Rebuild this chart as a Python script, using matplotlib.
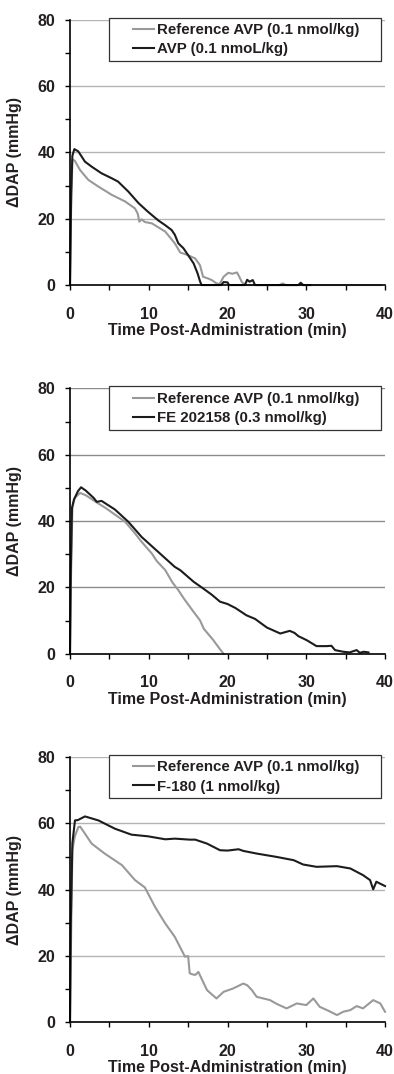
import matplotlib
matplotlib.use("Agg")
import matplotlib.pyplot as plt
from matplotlib.patches import Rectangle
from matplotlib.ticker import MultipleLocator

plt.rcParams["font.family"] = ["Liberation Sans", "DejaVu Sans"]
plt.rcParams["font.weight"] = "bold"
plt.rcParams["axes.labelweight"] = "bold"

# panel 1: reference AVP vs AVP
p1_ref_t = [0, 0.15, 0.3, 0.6, 1.27, 2.33, 3.6, 5.3, 7.0, 8.25, 8.6, 8.8, 9.1, 9.5, 10.4, 12.1, 13.3,
            14.0, 15.0, 15.9, 16.5, 16.9, 17.5, 18.0, 18.6, 19.0, 19.5, 20.1, 20.6, 21.2, 21.5, 21.8,
            22.2, 26.6, 27.0, 27.4, 39.5]
p1_ref_v = [0, 25, 37.9, 37.5, 34.7, 31.7, 29.7, 27.2, 25.2, 23.1, 21.5, 19.1, 19.8, 19.0, 18.6, 16.1,
            12.6, 9.8, 9.0, 8.0, 6.0, 2.5, 2.0, 1.5, 0.5, 0.3, 2.5, 3.7, 3.4, 3.8, 2.5, 1.0, 0, 0, 0.5,
            0, 0]
p1_drug_t = [0, 0.15, 0.3, 0.55, 1.05, 1.9, 2.75, 4.0, 5.3, 6.1, 7.4, 8.7, 9.9, 11.2, 12.0, 12.9,
             13.3, 13.75, 14.4, 15.0, 15.7, 16.2, 16.5, 16.7, 19.2, 19.5, 20.0, 20.2, 22.2, 22.5,
             22.8, 23.2, 23.5, 29.0, 29.3, 29.6, 30.5]
p1_drug_v = [0, 28, 39, 41.0, 40.3, 37.2, 35.7, 33.7, 32.2, 31.2, 28.2, 24.7, 22.1, 19.5, 18.2, 16.6,
             15.2, 12.6, 11.1, 9.0, 6.5, 3.5, 1.2, 0, 0, 0.9, 0.8, 0, 0, 1.6, 1.0, 1.5, 0, 0, 0.7,
             0, 0]

# panel 2: reference AVP vs FE 202158
p2_ref_t = [0, 0.1, 0.3, 0.6, 1.27, 2.0, 3.6, 4.5, 6.1, 7.0, 8.25, 9.0, 10.4, 11.0, 12.1, 13.0, 13.75,
            14.5, 15.7, 16.5, 17.0, 18.2, 19.0, 19.5]
p2_ref_v = [0, 20, 44, 47, 48.5, 47.8, 45.3, 44.0, 41.3, 39.8, 36.3, 34.0, 30.2, 28.0, 25.2, 21.5,
            19.2, 16.5, 12.6, 10.1, 7.5, 4.1, 1.5, 0]
p2_drug_t = [0, 0.1, 0.25, 0.5, 1.0, 1.4, 2.0, 3.0, 3.4, 4.0, 5.7, 7.4, 9.1, 11.2, 13.3, 14.0, 15.7,
             16.9, 18.0, 19.05, 20.0, 21.0, 22.4, 23.5, 25.0, 26.7, 27.9, 28.5, 29.0, 30.05, 31.3,
             32.6, 33.2, 33.65, 34.7, 35.5, 36.4, 36.8, 37.3, 37.9]
p2_drug_v = [0, 25, 44, 46.5, 49, 50.2, 49.2, 47.0, 45.8, 46.1, 43.5, 39.8, 35.2, 30.7, 26.2, 25.2,
             21.7, 19.7, 17.8, 15.7, 15.0, 13.8, 11.6, 10.5, 7.9, 6.1, 6.9, 6.3, 5.3, 4.1, 2.3, 2.3,
             2.4, 1.1, 0.6, 0.4, 1.1, 0.3, 0.6, 0.4]

# panel 3: reference AVP vs F-180
p3_ref_t = [0, 0.1, 0.3, 0.6, 1.06, 1.3, 2.75, 4.4, 6.6, 8.25, 9.5, 10.8, 12.1, 13.3, 14.6, 15.0,
            15.2, 15.5, 15.9, 16.3, 17.4, 18.6, 19.5, 20.7, 22.0, 22.5, 23.1, 23.7, 25.4, 26.3, 27.5,
            28.8, 30.0, 30.9, 31.7, 32.8, 33.9, 34.7, 35.6, 36.4, 37.2, 38.5, 39.4, 40.0]
p3_ref_v = [0, 20, 52, 56, 58.9, 59, 53.9, 50.9, 47.4, 42.9, 40.7, 34.8, 29.8, 25.8, 19.8, 20.0,
            14.8, 14.5, 14.3, 15.2, 9.7, 7.2, 9.2, 10.2, 11.7, 11.2, 9.7, 7.7, 6.7, 5.5, 4.2, 5.7,
            5.2, 7.2, 4.7, 3.5, 2.2, 3.2, 3.7, 4.9, 4.2, 6.7, 5.7, 3.2]
p3_drug_t = [0, 0.1, 0.3, 0.63, 1.0, 1.9, 3.6, 5.7, 7.8, 9.9, 12.1, 13.3, 15.2, 15.9, 17.4, 19.05,
             20.0, 21.4, 22.0, 23.7, 26.2, 28.4, 29.6, 31.3, 33.9, 35.6, 37.2, 38.1, 38.5, 38.9,
             39.4, 40.0]
p3_drug_v = [0, 30, 54, 60.9, 61, 62.1, 60.9, 58.4, 56.6, 56.1, 55.2, 55.4, 55.1, 55.1, 53.9, 51.9,
             51.8, 52.2, 51.7, 50.9, 49.9, 48.9, 47.6, 46.9, 47.1, 46.4, 44.4, 42.9, 40.1, 42.4,
             41.8, 41.1]

ref_label = "Reference AVP (0.1 nmol/kg)"
drug_labels = ["AVP (0.1 nmoL/kg)", "FE 202158 (0.3 nmol/kg)", "F-180 (1 nmol/kg)"]

GRAY = "#999999"
BLACK = "#1c1c1c"
TEXT = "#231f20"


def draw_panel(ax, ref_t, ref_v, drug_t, drug_v, drug_label, grid_color):
    ax.set_xlim(0, 40)
    ax.set_ylim(0, 80)
    for y in [20, 40, 60, 80]:
        ax.axhline(y, color=grid_color, lw=1.0, zorder=1)
    ax.plot(ref_t, ref_v, color=GRAY, lw=1.5, label=ref_label, clip_on=False, zorder=3)
    ax.plot(drug_t, drug_v, color=BLACK, lw=1.5, label=drug_label, clip_on=False, zorder=4)

    for side in ["top", "right"]:
        ax.spines[side].set_visible(False)
    for side in ["left", "bottom"]:
        ax.spines[side].set_linewidth(1.2)
        ax.spines[side].set_color("black")
        ax.spines[side].set_zorder(5)
    ax.xaxis.set_major_locator(MultipleLocator(10))
    ax.xaxis.set_minor_locator(MultipleLocator(5))
    ax.yaxis.set_major_locator(MultipleLocator(20))
    ax.yaxis.set_minor_locator(MultipleLocator(10))
    ax.tick_params(which="both", direction="out", length=3.6, width=1.0, color="black")
    ax.tick_params(axis="x", pad=12, labelsize=11.5, labelcolor=TEXT)
    ax.tick_params(axis="y", pad=7, labelsize=11.5, labelcolor=TEXT)
    for lab in ax.get_xticklabels() + ax.get_yticklabels():
        lab.set_fontweight("bold")
    ax.set_xlabel("Time Post-Administration (min)", fontsize=11.5, color=TEXT,
                  fontweight="bold", labelpad=1)
    ax.set_ylabel("ΔDAP (mmHg)", fontsize=11.5, color=TEXT, fontweight="bold")
    ax.yaxis.set_label_coords(-0.152, 0.5)

    # legend frame drawn as a plain box, entries placed inside it
    ax.add_patch(Rectangle((0.124, 0.845), 0.863, 0.1625, transform=ax.transAxes,
                           facecolor="white", edgecolor="#333333", lw=0.9,
                           clip_on=False, zorder=6))
    leg = ax.legend(loc="center left", bbox_to_anchor=(0.2, 0.9245), frameon=False,
                    fontsize=10.8, handlelength=1.4, handletextpad=0.2, labelspacing=0.35,
                    borderpad=0, borderaxespad=0)
    leg.set_zorder(7)
    for text in leg.get_texts():
        text.set_color(TEXT)
        text.set_fontweight("bold")


fig = plt.figure(figsize=(3.94, 10.74), dpi=100)
panels = [
    (0.7346, p1_ref_t, p1_ref_v, p1_drug_t, p1_drug_v, drug_labels[0], "#b4b4b4"),
    (0.3913, p2_ref_t, p2_ref_v, p2_drug_t, p2_drug_v, drug_labels[1], "#8c8c8c"),
    (0.0481, p3_ref_t, p3_ref_v, p3_drug_t, p3_drug_v, drug_labels[2], "#b4b4b4"),
]
for bottom, rt, rv, dt, dv, label, gc in panels:
    ax = fig.add_axes([0.1777, bottom, 0.7995, 0.2470])
    draw_panel(ax, rt, rv, dt, dv, label, gc)

fig.savefig("out.png", dpi=100)
